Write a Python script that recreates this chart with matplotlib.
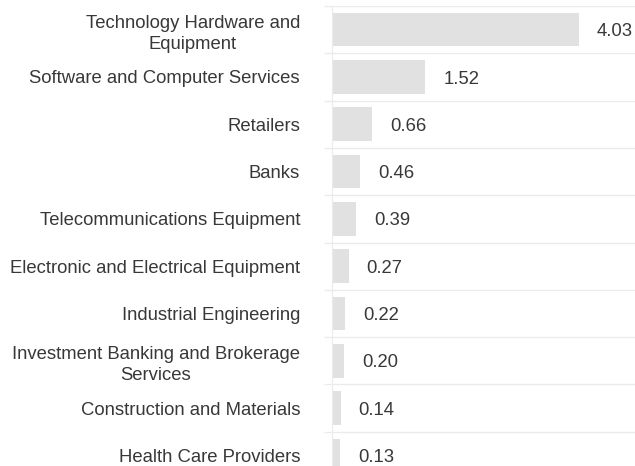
import matplotlib
matplotlib.use("Agg")
import matplotlib.pyplot as plt
import numpy as np

plt.rcParams['font.family'] = ['Liberation Sans', 'DejaVu Sans']

# sectors, largest first
sectors = ['Technology Hardware and\nEquipment',
           'Software and Computer Services',
           'Retailers',
           'Banks',
           'Telecommunications Equipment',
           'Electronic and Electrical Equipment',
           'Industrial Engineering',
           'Investment Banking and Brokerage\nServices',
           'Construction and Materials',
           'Health Care Providers']
values = [4.03, 1.52, 0.66, 0.46, 0.39, 0.27, 0.22, 0.20, 0.14, 0.13]

fig = plt.figure(figsize=(6.35, 4.66), dpi=100)
# axes runs past the bottom edge, the last row is cut off like in the original
ax = fig.add_axes([332/635, -13/466, 303/635, 473/466])

y = np.arange(len(values))
ax.barh(y, values, height=0.71, color='#e1e1e1', zorder=2)
ax.set_ylim(len(values) - 0.5, -0.5)
ax.set_xlim(0, 303/61.3)

for yi, v in zip(y, values):
    ax.annotate(f'{v:.2f}', (v, yi), xytext=(13, -1.5), textcoords='offset points',
                ha='left', va='center', fontsize=13.3, color='#383838')

ax.set_yticks(y)
ax.set_yticklabels(sectors, fontsize=13.3, color='#383838', multialignment='center',
                   linespacing=1.3)
ax.tick_params(axis='y', which='major', length=0, pad=23)
ax.set_yticks(np.arange(len(values) + 1) - 0.5, minor=True)
ax.tick_params(axis='y', which='minor', length=6, color='#ebebeb', width=1)
ax.grid(axis='y', which='minor', color='#ebebeb', linewidth=1, zorder=0)
ax.set_xticks([])

for s in ['top', 'right', 'bottom']:
    ax.spines[s].set_visible(False)
ax.spines['left'].set_color('#ebebeb')

fig.savefig('out.png', dpi=100)
